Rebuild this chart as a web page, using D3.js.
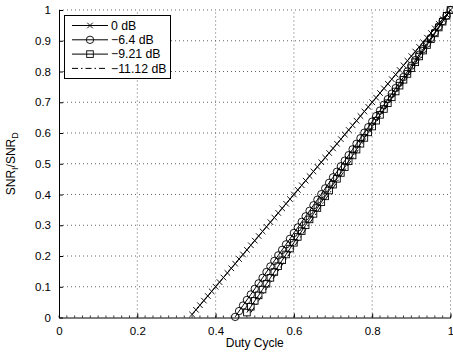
<!DOCTYPE html>
<html>
<head>
<meta charset="utf-8">
<script src="https://cdn.jsdelivr.net/npm/d3@7/dist/d3.min.js"></script>
<style>
  html, body { margin: 0; padding: 0; background: #fff; }
  svg { display: block; font-family: "Liberation Sans", Arial, sans-serif; }
</style>
</head>
<body>
<svg id="chart" width="453" height="353"></svg>
<script>
// Duty cycle samples (shared x values; each series uses the tail it covers)
const dutyCycle = [0.34,0.35,0.36,0.37,0.38,0.39,0.40,0.41,0.42,0.43,0.44,0.45,0.46,0.47,0.48,0.49,
  0.50,0.51,0.52,0.53,0.54,0.55,0.56,0.57,0.58,0.59,0.60,0.61,0.62,0.63,0.64,0.65,0.66,0.67,0.68,0.69,
  0.70,0.71,0.72,0.73,0.74,0.75,0.76,0.77,0.78,0.79,0.80,0.81,0.82,0.83,0.84,0.85,0.86,0.87,0.88,0.89,
  0.90,0.91,0.92,0.93,0.94,0.95,0.96,0.97,0.98,0.99,1.00];

// SNR_I / SNR_D for each interference level
const snr0dB = [0.010,0.025,0.040,0.055,0.070,0.085,0.100,0.115,0.130,0.145,0.160,0.175,0.190,0.205,
  0.220,0.235,0.250,0.265,0.280,0.295,0.310,0.325,0.340,0.355,0.370,0.385,0.400,0.415,0.430,0.445,
  0.460,0.475,0.490,0.505,0.520,0.535,0.550,0.565,0.580,0.595,0.610,0.625,0.640,0.655,0.670,0.685,
  0.700,0.715,0.730,0.745,0.760,0.775,0.790,0.805,0.820,0.835,0.850,0.865,0.880,0.895,0.910,0.925,
  0.940,0.955,0.970,0.985,1.000];
const snrM6_4dB = [0.002,0.021,0.039,0.057,0.075,0.093,0.111,0.129,0.148,0.166,0.184,0.202,0.220,
  0.238,0.256,0.275,0.293,0.311,0.329,0.347,0.365,0.383,0.401,0.420,0.438,0.456,0.474,0.492,0.510,
  0.528,0.547,0.565,0.583,0.601,0.619,0.637,0.655,0.673,0.692,0.710,0.728,0.746,0.764,0.782,0.800,
  0.819,0.837,0.855,0.873,0.891,0.909,0.927,0.946,0.964,0.982,1.000];
const snrM9_21dB = [0.016,0.035,0.054,0.072,0.091,0.110,0.129,0.148,0.167,0.186,0.205,0.224,0.243,
  0.262,0.281,0.300,0.319,0.337,0.356,0.375,0.394,0.413,0.432,0.451,0.470,0.489,0.508,0.527,0.546,
  0.565,0.584,0.602,0.621,0.640,0.659,0.678,0.697,0.716,0.735,0.754,0.773,0.792,0.811,0.830,0.849,
  0.868,0.886,0.905,0.924,0.943,0.962,0.981,1.000];
const snrM11_12dB = [0.016,0.036,0.055,0.074,0.094,0.113,0.132,0.151,0.171,0.190,0.209,0.229,0.248,
  0.267,0.286,0.306,0.325,0.344,0.364,0.383,0.402,0.421,0.441,0.460,0.479,0.499,0.518,0.537,0.556,
  0.576,0.595,0.614,0.634,0.653,0.672,0.691,0.711,0.730,0.749,0.769,0.788,0.807,0.826,0.846,0.865,
  0.884,0.904,0.923,0.942,0.961,0.981,1.000];

const seriesNames = ["0 dB", "\u22126.4 dB", "\u22129.21 dB", "\u221211.12 dB"];
const seriesMarkers = ["x", "circle", "square", "none"];
const xTicks = [0, 0.2, 0.4, 0.6, 0.8, 1];
const yTicks = [0, 0.1, 0.2, 0.3, 0.4, 0.5, 0.6, 0.7, 0.8, 0.9, 1];
const xTickLabels = ["0", "0.2", "0.4", "0.6", "0.8", "1"];
const yTickLabels = ["0", "0.1", "0.2", "0.3", "0.4", "0.5", "0.6", "0.7", "0.8", "0.9", "1"];

const ySeries = [snr0dB, snrM6_4dB, snrM9_21dB, snrM11_12dB];
const series = ySeries.map((ys, i) => {
  const xs = dutyCycle.slice(dutyCycle.length - ys.length);
  return { name: seriesNames[i], marker: seriesMarkers[i],
           points: ys.map((v, j) => ({ x: xs[j], y: v })) };
});

const svg = d3.select("#chart");
const plotLeft = 59, plotRight = 450.5, plotTop = 10, plotBottom = 317.5;
const x = d3.scaleLinear().domain([0, 1]).range([plotLeft, plotRight]);
const y = d3.scaleLinear().domain([0, 1]).range([plotBottom, plotTop]);

// dotted grid
const grid = svg.append("g").attr("stroke", "#000").attr("stroke-width", 0.8)
  .attr("stroke-dasharray", "1,3").attr("opacity", 0.75);
xTicks.filter(t => t > 0).forEach(t => {
  grid.append("line").attr("x1", x(t)).attr("x2", x(t)).attr("y1", plotBottom).attr("y2", plotTop);
});
yTicks.filter(t => t > 0).forEach(t => {
  grid.append("line").attr("x1", plotLeft).attr("x2", plotRight).attr("y1", y(t)).attr("y2", y(t));
});

// axes with inward ticks
const xAxis = d3.axisBottom(x).tickValues(xTicks).tickFormat((d, i) => xTickLabels[i])
  .tickSizeInner(-4).tickSizeOuter(0).tickPadding(8);
const yAxis = d3.axisLeft(y).tickValues(yTicks).tickFormat((d, i) => yTickLabels[i])
  .tickSizeInner(-4).tickSizeOuter(0).tickPadding(8);

const gx = svg.append("g").attr("transform", `translate(0,${plotBottom})`).call(xAxis);
const gy = svg.append("g").attr("transform", `translate(${plotLeft},0)`).call(yAxis);
[gx, gy].forEach(g => {
  g.selectAll("path").attr("stroke", "#000").attr("stroke-width", 1);
  g.selectAll("line").attr("stroke", "#000");
  g.selectAll("text").attr("fill", "#000").attr("font-size", 11.5)
    .attr("font-family", "Liberation Sans, Arial, sans-serif");
});
gx.selectAll("text").attr("dy", "0.85em");

// minor ticks on x axis
const minorX = d3.range(0, 51).map(i => i / 50);
svg.append("g").selectAll("line").data(minorX).join("line")
  .attr("x1", d => x(d)).attr("x2", d => x(d))
  .attr("y1", plotBottom).attr("y2", plotBottom - 2)
  .attr("stroke", "#000").attr("stroke-width", 0.8);

// axis labels
svg.append("text").attr("x", (plotLeft + plotRight) / 2).attr("y", 347)
  .attr("text-anchor", "middle").attr("font-size", 12).text("Duty Cycle");
const yl = svg.append("text").attr("transform", `translate(15,${(plotTop + plotBottom) / 2}) rotate(-90)`)
  .attr("text-anchor", "middle").attr("font-size", 12);
yl.append("tspan").text("SNR");
yl.append("tspan").attr("font-size", 9).attr("dy", 3).text("I");
yl.append("tspan").attr("dy", -3).text("/SNR");
yl.append("tspan").attr("font-size", 9).attr("dy", 3).text("D");

// series lines and markers
const plot = svg.append("g");
const line = d3.line().x(d => x(d.x)).y(d => y(d.y));

function drawMarker(g, type, cx, cy) {
  if (type === "x") {
    const s = 2.8;
    g.append("path").attr("d", `M${cx - s},${cy - s}L${cx + s},${cy + s}M${cx - s},${cy + s}L${cx + s},${cy - s}`)
      .attr("stroke", "#000").attr("stroke-width", 0.9).attr("fill", "none");
  } else if (type === "circle") {
    g.append("circle").attr("cx", cx).attr("cy", cy).attr("r", 3.7)
      .attr("stroke", "#000").attr("stroke-width", 0.9).attr("fill", "none");
  } else if (type === "square") {
    const s = 3.3;
    g.append("rect").attr("x", cx - s).attr("y", cy - s).attr("width", 2 * s).attr("height", 2 * s)
      .attr("stroke", "#000").attr("stroke-width", 0.9).attr("fill", "none");
  }
}

series.forEach(s => {
  plot.append("path").datum(s.points).attr("d", line)
    .attr("fill", "none").attr("stroke", "#000").attr("stroke-width", 1)
    .attr("stroke-dasharray", s.marker === "none" ? "6,3,1.5,3" : null);
  if (s.marker !== "none") {
    const mg = plot.append("g");
    s.points.forEach(p => drawMarker(mg, s.marker, x(p.x), y(p.y)));
  }
});

// legend
const lg = svg.append("g");
lg.append("rect").attr("x", 64.5).attr("y", 15.5).attr("width", 106).attr("height", 63)
  .attr("fill", "#fff").attr("stroke", "#000").attr("stroke-width", 1);
series.forEach((s, i) => {
  const ly = 25.5 + i * 14.3;
  lg.append("line").attr("x1", 72).attr("x2", 108).attr("y1", ly).attr("y2", ly)
    .attr("stroke", "#000").attr("stroke-width", 1)
    .attr("stroke-dasharray", s.marker === "none" ? "6,3,1.5,3" : null);
  drawMarker(lg, s.marker, 90, ly);
  lg.append("text").attr("x", 111).attr("y", ly).attr("dy", "0.35em")
    .attr("font-size", 12.3).text(s.name);
});
</script>
</body>
</html>
